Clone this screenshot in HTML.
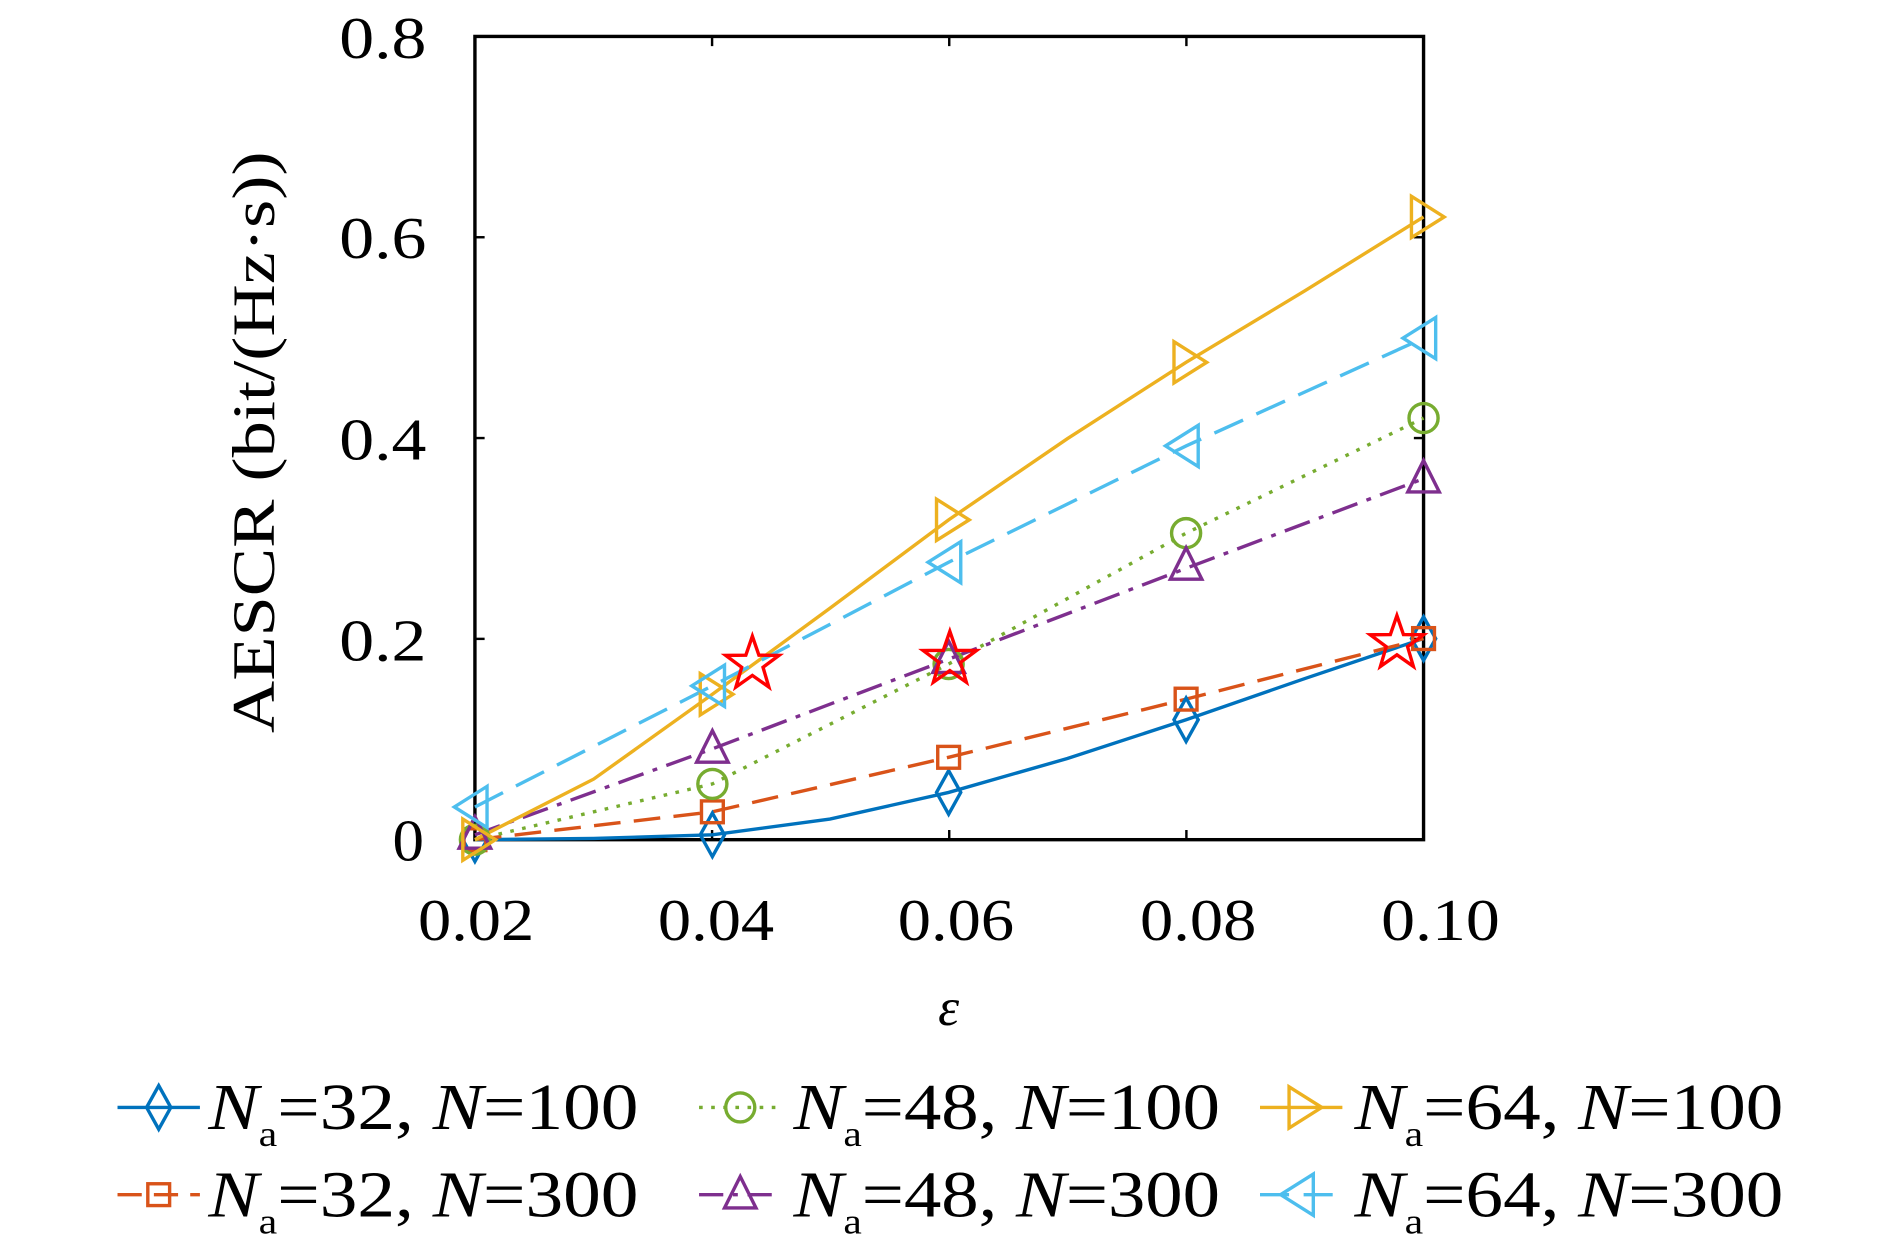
<!DOCTYPE html>
<html><head><meta charset="utf-8"><style>html,body{margin:0;padding:0;background:#fff}svg{display:block}</style></head>
<body>
<svg width="1890" height="1242" viewBox="0 0 1560 1025" xmlns="http://www.w3.org/2000/svg" font-family="Liberation Serif, serif">
<defs>
<g id="dia"><path d="M0,-18 L10,0 L0,18 L-10,0 Z" fill="none" stroke-width="2.8"/></g>
<g id="sq"><rect x="-9" y="-9" width="18" height="18" fill="none" stroke-width="2.8"/></g>
<g id="cir"><circle r="12" fill="none" stroke-width="2.8"/></g>
<g id="tu"><path d="M0,-15 L13,11 L-13,11 Z" fill="none" stroke-width="2.8"/></g>
<g id="tr"><path d="M-10,-17 L17,0 L-10,17 Z" fill="none" stroke-width="2.8"/></g>
<g id="tl"><path d="M10,-17 L-17,0 L10,17 Z" fill="none" stroke-width="2.8"/></g>
<g id="star"><path d="M0,-23 L5.4,-7.3 L22,-7.1 L8.8,2.7 L13.6,19 L0,9.4 L-13.6,19 L-8.8,2.7 L-22,-7.1 L-5.4,-7.3 Z" fill="none" stroke="#ff0000" stroke-width="2.8"/></g>
</defs>
<rect x="392" y="30" width="783" height="663" fill="none" stroke="#000" stroke-width="2.8"/>
<g stroke="#000" stroke-width="2">
<line x1="587.75" y1="693" x2="587.75" y2="685"/><line x1="783.5" y1="693" x2="783.5" y2="685"/><line x1="979.25" y1="693" x2="979.25" y2="685"/>
<line x1="587.75" y1="30" x2="587.75" y2="38"/><line x1="783.5" y1="30" x2="783.5" y2="38"/><line x1="979.25" y1="30" x2="979.25" y2="38"/>
<line x1="392" y1="527.25" x2="400" y2="527.25"/><line x1="392" y1="361.5" x2="400" y2="361.5"/><line x1="392" y1="195.75" x2="400" y2="195.75"/>
<line x1="1175" y1="527.25" x2="1167" y2="527.25"/><line x1="1175" y1="361.5" x2="1167" y2="361.5"/><line x1="1175" y1="195.75" x2="1167" y2="195.75"/>
</g>
<g font-size="49" fill="#000" lengthAdjust="spacingAndGlyphs">
<text x="324" y="710" textLength="26" lengthAdjust="spacingAndGlyphs">0</text>
<text x="280" y="545" textLength="72" lengthAdjust="spacingAndGlyphs">0.2</text>
<text x="280" y="379" textLength="72" lengthAdjust="spacingAndGlyphs">0.4</text>
<text x="280" y="213" textLength="72" lengthAdjust="spacingAndGlyphs">0.6</text>
<text x="280" y="48" textLength="72" lengthAdjust="spacingAndGlyphs">0.8</text>
<text x="345" y="776" textLength="96" lengthAdjust="spacingAndGlyphs">0.02</text>
<text x="543" y="776" textLength="96" lengthAdjust="spacingAndGlyphs">0.04</text>
<text x="741" y="776" textLength="96" lengthAdjust="spacingAndGlyphs">0.06</text>
<text x="941" y="776" textLength="96" lengthAdjust="spacingAndGlyphs">0.08</text>
<text x="1140" y="776" textLength="98" lengthAdjust="spacingAndGlyphs">0.10</text>
</g>
<text x="783" y="846" font-size="44" font-style="italic" text-anchor="middle">ε</text>
<text transform="translate(226,365) rotate(-90)" font-size="50" x="-240" textLength="480" lengthAdjust="spacingAndGlyphs">AESCR (bit/(Hz·s))</text>

<g fill="none" stroke-width="2.8">
<polyline stroke="#0072BD" points="392,693 490,692 588,689 685,676 783,654 881,626 979,594 1077,560 1175,527"/>
<polyline stroke="#D95319" stroke-dasharray="22,11" points="392,693 588,670 783,625 979,577 1175,527"/>
<polyline stroke="#77AC30" stroke-dasharray="3,7" points="392,693 588,647 783,548 979,440 1175,345"/>
<polyline stroke="#7E2F8E" stroke-dasharray="22,8,4,8" points="392,689 588,618 783,544 979,469 1175,395"/>
<polyline stroke="#EDB120" points="392,693 490,643 588,573 685,502 783,429 881,362 979,299 1077,240 1175,179"/>
<polyline stroke="#4DBEEE" stroke-dasharray="26,12" points="392,666 588,566 783,464 979,368 1175,279"/>
</g>
<g stroke="#0072BD"><use href="#dia" x="392" y="693"/><use href="#dia" x="588" y="689"/><use href="#dia" x="783" y="654"/><use href="#dia" x="979" y="594"/><use href="#dia" x="1175" y="527"/></g>
<g stroke="#D95319"><use href="#sq" x="392" y="693"/><use href="#sq" x="588" y="670"/><use href="#sq" x="783" y="625"/><use href="#sq" x="979" y="577"/><use href="#sq" x="1175" y="527"/></g>
<g stroke="#77AC30"><use href="#cir" x="392" y="693"/><use href="#cir" x="588" y="647"/><use href="#cir" x="783" y="548"/><use href="#cir" x="979" y="440"/><use href="#cir" x="1175" y="345"/></g>
<g stroke="#7E2F8E"><use href="#tu" x="392" y="689"/><use href="#tu" x="588" y="618"/><use href="#tu" x="783" y="544"/><use href="#tu" x="979" y="467"/><use href="#tu" x="1175" y="395"/></g>
<g stroke="#EDB120"><use href="#tr" x="392" y="693"/><use href="#tr" x="588" y="573"/><use href="#tr" x="783" y="429"/><use href="#tr" x="979" y="299"/><use href="#tr" x="1175" y="179"/></g>
<g stroke="#4DBEEE"><use href="#tl" x="392" y="666"/><use href="#tl" x="588" y="566"/><use href="#tl" x="783" y="464"/><use href="#tl" x="979" y="368"/><use href="#tl" x="1175" y="279"/></g>
<use href="#star" x="621" y="548"/><use href="#star" x="784" y="544"/><use href="#star" x="1153" y="531"/>

<g font-size="54" fill="#000">
<g transform="translate(0,914)">
<line x1="97" y1="0" x2="165" y2="0" stroke="#0072BD" stroke-width="2.8"/><use href="#dia" x="131" y="0" stroke="#0072BD"/>
<text x="172" y="18" textLength="355" lengthAdjust="spacingAndGlyphs"><tspan font-style="italic">N</tspan><tspan font-size="30" dy="14">a</tspan><tspan dy="-14">=32, </tspan><tspan font-style="italic">N</tspan>=100</text>
<line x1="577" y1="0" x2="645" y2="0" stroke="#77AC30" stroke-width="2.8" stroke-dasharray="3,7"/><use href="#cir" x="611" y="0" stroke="#77AC30"/>
<text x="655" y="18" textLength="352" lengthAdjust="spacingAndGlyphs"><tspan font-style="italic">N</tspan><tspan font-size="30" dy="14">a</tspan><tspan dy="-14">=48, </tspan><tspan font-style="italic">N</tspan>=100</text>
<line x1="1040" y1="0" x2="1108" y2="0" stroke="#EDB120" stroke-width="2.8"/><use href="#tr" x="1074" y="0" stroke="#EDB120"/>
<text x="1118" y="18" textLength="354" lengthAdjust="spacingAndGlyphs"><tspan font-style="italic">N</tspan><tspan font-size="30" dy="14">a</tspan><tspan dy="-14">=64, </tspan><tspan font-style="italic">N</tspan>=100</text>
</g>
<g transform="translate(0,986)">
<line x1="97" y1="0" x2="165" y2="0" stroke="#D95319" stroke-width="2.8" stroke-dasharray="20,10"/><use href="#sq" x="131" y="0" stroke="#D95319"/>
<text x="172" y="18" textLength="355" lengthAdjust="spacingAndGlyphs"><tspan font-style="italic">N</tspan><tspan font-size="30" dy="14">a</tspan><tspan dy="-14">=32, </tspan><tspan font-style="italic">N</tspan>=300</text>
<line x1="577" y1="0" x2="645" y2="0" stroke="#7E2F8E" stroke-width="2.8" stroke-dasharray="20,8,4,8"/><use href="#tu" x="611" y="0" stroke="#7E2F8E"/>
<text x="655" y="18" textLength="352" lengthAdjust="spacingAndGlyphs"><tspan font-style="italic">N</tspan><tspan font-size="30" dy="14">a</tspan><tspan dy="-14">=48, </tspan><tspan font-style="italic">N</tspan>=300</text>
<line x1="1040" y1="0" x2="1108" y2="0" stroke="#4DBEEE" stroke-width="2.8" stroke-dasharray="24,12"/><use href="#tl" x="1074" y="0" stroke="#4DBEEE"/>
<text x="1118" y="18" textLength="354" lengthAdjust="spacingAndGlyphs"><tspan font-style="italic">N</tspan><tspan font-size="30" dy="14">a</tspan><tspan dy="-14">=64, </tspan><tspan font-style="italic">N</tspan>=300</text>
</g>
</g>
</svg>
</body></html>
